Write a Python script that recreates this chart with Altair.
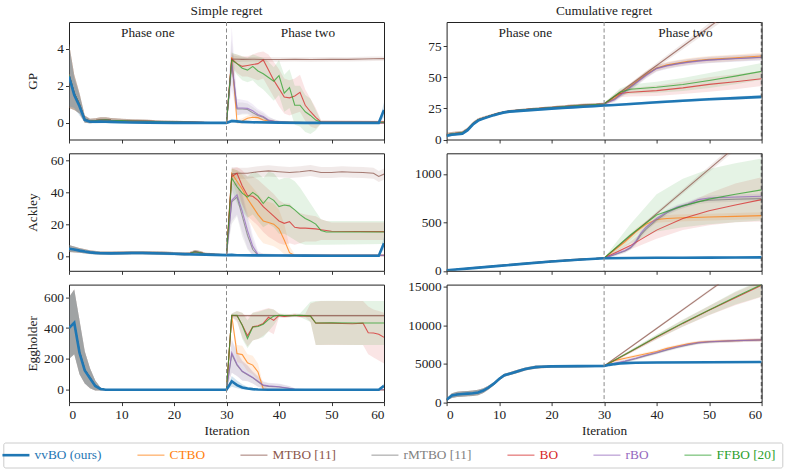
import altair as alt
import pandas as pd

FONT = "Liberation Serif"
FS = 13.3
INK = "#222222"

SERIES = ["vvBO (ours)", "CTBO", "MTBO [11]", "rMTBO [11]", "BO", "rBO", "FFBO [20]"]
COLORS = ["#1f77b4", "#ff7f0e", "#8c564b", "#7f7f7f", "#d62728", "#9467bd", "#2ca02c"]
ITER_TICKS = [0, 10, 20, 30, 40, 50, 60]

# Each series is (iterations, mean, lower band, upper band).
# Phase one (iterations 0-30) is shared by the baselines; each baseline then has its own phase two.

# ---------------- GP, simple regret ----------------
GP_S_P1 = ([0, 1, 2, 3, 4, 5, 6, 7, 8, 10, 12, 15, 18, 22, 26, 30],
           [2.6, 1.6, 1.0, 0.2, 0.1, 0.12, 0.15, 0.16, 0.14, 0.12, 0.1, 0.08, 0.06, 0.04, 0.02, 0.0],
           [0.8, 0.7, 0.5, 0.0, -0.02, 0.0, 0.02, 0.03, 0.03, 0.02, 0.01, 0.0, -0.01, -0.02, -0.02, -0.03],
           [4.3, 2.6, 1.6, 0.4, 0.22, 0.25, 0.3, 0.3, 0.26, 0.22, 0.2, 0.17, 0.13, 0.1, 0.06, 0.03])
GP_S = {
    "vvBO (ours)": ([0, 1, 2, 3, 4, 5, 6, 7, 8, 10, 12, 15, 20, 25, 30, 31, 32, 33, 35, 40, 45, 50, 55, 59, 60],
                    [2.5, 1.5, 0.9, 0.15, 0.06, 0.06, 0.07, 0.06, 0.05, 0.03, 0.02, 0.01, 0.0, 0.0, 0.0, 0.1, 0.08, 0.05, 0.03, 0.01, 0.0, 0.0, 0.0, 0.0, 0.7],
                    [0.9, 0.8, 0.4, 0.0, -0.04, -0.03, -0.02, -0.02, -0.02, -0.03, -0.03, -0.03, -0.03, -0.03, -0.03, 0.0, 0.0, -0.02, -0.03, -0.03, -0.03, -0.03, -0.03, -0.03, 0.3],
                    [4.2, 2.4, 1.5, 0.35, 0.18, 0.15, 0.16, 0.15, 0.12, 0.1, 0.08, 0.06, 0.04, 0.04, 0.04, 0.22, 0.17, 0.12, 0.08, 0.05, 0.04, 0.04, 0.04, 0.04, 1.1]),
    "CTBO": ([30, 31, 32, 33, 34, 35, 36, 37, 38, 40, 45, 50, 60],
             [0, 3.55, 0.05, 0.1, 0.25, 0.3, 0.28, 0.15, 0.1, 0.05, 0.02, 0.0, 0.0],
             [0, 3.1, -0.05, -0.05, 0.1, 0.15, 0.12, 0.03, 0.0, -0.03, -0.03, -0.03, -0.03],
             [0, 3.9, 0.15, 0.25, 0.4, 0.45, 0.42, 0.3, 0.2, 0.12, 0.07, 0.04, 0.04]),
    "MTBO [11]": ([30, 31, 33, 35, 37, 40, 43, 46, 50, 53, 56, 58, 60],
                  [0, 3.45, 3.43, 3.44, 3.42, 3.42, 3.43, 3.42, 3.44, 3.43, 3.45, 3.46, 3.47],
                  [0, 3.25, 3.3, 3.32, 3.3, 3.3, 3.31, 3.3, 3.32, 3.31, 3.33, 3.34, 3.35],
                  [0, 3.65, 3.56, 3.56, 3.54, 3.54, 3.55, 3.54, 3.56, 3.55, 3.57, 3.58, 3.59]),
    "rMTBO [11]": ([30, 31, 32, 33, 34, 35, 36, 37, 38, 40, 42, 60],
                   [0, 3.2, 0.75, 0.75, 0.72, 0.55, 0.4, 0.3, 0.12, 0.04, 0.02, 0.0],
                   [0, 2.4, 0.4, 0.45, 0.45, 0.3, 0.2, 0.1, 0.0, -0.03, -0.03, -0.03],
                   [0, 4.5, 1.1, 1.1, 1.05, 0.85, 0.65, 0.5, 0.3, 0.12, 0.06, 0.03]),
    "BO": ([30, 31, 32, 33, 34, 35, 36, 37, 38, 39, 40, 41, 42, 43, 44, 45, 46, 47, 48, 60],
           [0, 3.45, 3.2, 3.05, 3.1, 3.15, 3.2, 3.4, 2.85, 2.3, 1.85, 1.4, 1.35, 1.45, 1.65, 0.95, 0.6, 0.3, 0.05, 0.05],
           [0, 3.1, 2.7, 2.5, 2.5, 2.4, 2.3, 2.4, 1.9, 1.4, 0.9, 0.5, 0.4, 0.5, 0.6, 0.1, -0.2, -0.3, -0.05, -0.03],
           [0, 3.75, 3.7, 3.6, 3.6, 3.7, 3.8, 3.85, 3.7, 3.3, 2.9, 2.4, 2.3, 2.4, 2.6, 1.8, 1.3, 0.8, 0.15, 0.13]),
    "rBO": ([30, 31, 32, 33, 34, 35, 36, 37, 38, 39, 40, 42, 60],
            [0, 3.3, 0.8, 0.8, 0.78, 0.65, 0.45, 0.35, 0.15, 0.08, 0.05, 0.02, 0.0],
            [0, 1.8, 0.4, 0.5, 0.5, 0.4, 0.25, 0.15, 0.0, -0.02, -0.03, -0.03, -0.03],
            [0, 5.2, 1.3, 1.25, 1.2, 1.0, 0.75, 0.6, 0.35, 0.2, 0.12, 0.06, 0.03]),
    "FFBO [20]": ([30, 31, 32, 33, 34, 35, 36, 37, 38, 39, 40, 41, 42, 43, 44, 45, 46, 47, 48, 60],
                  [0, 3.4, 3.2, 2.95, 2.85, 3.05, 2.8, 2.65, 2.45, 2.25, 2.55, 1.6, 1.9, 0.95, 0.95, 0.6, 0.4, 0.15, 0.03, 0.03],
                  [0, 3.0, 2.6, 2.3, 2.2, 2.3, 2.0, 1.8, 1.5, 1.2, 1.5, 0.6, 0.8, -0.1, -0.2, -0.5, -0.6, -0.4, -0.05, -0.03],
                  [0, 3.8, 3.7, 3.6, 3.5, 3.7, 3.6, 3.5, 3.3, 3.0, 3.4, 2.6, 2.9, 2.0, 2.0, 1.5, 1.3, 0.7, 0.12, 0.1]),
}

# ---------------- GP, cumulative regret ----------------
GP_C_P1 = ([0, 1, 2, 3, 4, 5, 6, 7, 8, 10, 12, 15, 20, 25, 30],
           [3.6, 4.5, 5.0, 5.5, 8.3, 12.8, 15.8, 17.3, 18.7, 21.2, 22.8, 24.0, 25.7, 27.3, 28.6],
           [2.0, 3.0, 3.6, 4.2, 7.0, 11.5, 14.6, 16.2, 17.6, 20.2, 21.8, 23.0, 24.6, 26.1, 27.3],
           [5.2, 6.0, 6.4, 6.8, 9.6, 14.1, 17.0, 18.4, 19.8, 22.2, 23.8, 25.0, 26.8, 28.5, 29.9])
GP_C = {
    "vvBO (ours)": ([0, 1, 2, 3, 4, 5, 6, 7, 8, 9, 10, 11, 12, 14, 16, 18, 20, 22, 24, 26, 28, 30, 32, 35, 40, 45, 50, 55, 60],
                    [3.0, 3.8, 4.2, 4.6, 7.5, 12.0, 15.2, 16.8, 18.2, 19.6, 20.8, 21.8, 22.4, 23.0, 23.6, 24.2, 24.8, 25.3, 25.8, 26.3, 26.8, 27.3, 27.8, 28.6, 29.9, 31.2, 32.4, 33.3, 34.3],
                    [1.8, 2.8, 3.2, 3.6, 6.4, 10.9, 14.2, 15.9, 17.3, 18.7, 19.9, 20.9, 21.5, 22.1, 22.7, 23.3, 23.9, 24.4, 24.9, 25.4, 25.9, 26.4, 26.9, 27.6, 28.8, 30.1, 31.2, 32.0, 32.9],
                    [4.2, 4.8, 5.2, 5.6, 8.6, 13.1, 16.2, 17.7, 19.1, 20.5, 21.7, 22.7, 23.3, 23.9, 24.5, 25.1, 25.7, 26.2, 26.7, 27.2, 27.7, 28.2, 28.7, 29.6, 31.0, 32.3, 33.6, 34.6, 35.7]),
    "CTBO": ([30, 32, 34, 36, 38, 40, 42, 44, 46, 48, 50, 55, 60],
             [28.6, 33, 39.5, 46, 52.5, 57.5, 60, 61.5, 62.8, 63.8, 64.6, 65.8, 67.2],
             [27.6, 31, 37, 43.5, 50, 55, 57.5, 59, 60.3, 61.3, 62, 63.2, 64.6],
             [29.6, 35, 42, 48.5, 55, 60, 62.5, 64, 65.3, 66.3, 67.2, 68.4, 69.8]),
    "MTBO [11]": ([30, 35, 40, 45, 50, 55, 60],
                  [28.6, 44, 59.5, 75, 90.5, 106, 121.5],
                  [28, 42.5, 57.5, 72.5, 87.5, 102.5, 117.5],
                  [29.2, 45.5, 61.5, 77.5, 93.5, 109.5, 125.5]),
    "rMTBO [11]": ([30, 32, 34, 36, 38, 40, 42, 44, 46, 48, 50, 55, 60],
                   [28.6, 32.5, 39, 45.5, 52, 57.3, 59.5, 61, 62.3, 63.3, 64, 65.2, 66.2],
                   [27.6, 30.5, 36.5, 43, 49.5, 54.8, 57, 58.5, 59.8, 60.8, 61.5, 62.7, 63.7],
                   [29.6, 34.5, 41.5, 48, 54.5, 59.8, 62, 63.5, 64.8, 65.8, 66.5, 67.7, 68.7]),
    "BO": ([30, 31, 32, 33, 35, 40, 45, 50, 55, 60],
           [28.6, 31.5, 34.5, 37, 38, 39.3, 41.5, 44.3, 46.5, 48.8],
           [27.6, 30, 32.5, 34, 34.5, 35, 36.5, 38.5, 40.5, 43],
           [29.6, 33, 36.5, 40, 41.5, 43.5, 46.5, 50, 52.5, 55]),
    "rBO": ([30, 32, 34, 36, 38, 40, 42, 44, 46, 48, 50, 55, 60],
            [28.6, 32, 38.5, 45, 51.5, 57, 59.2, 60.8, 62, 63, 63.8, 65, 66],
            [27.6, 30, 36, 42.5, 49, 54.5, 56.7, 58.3, 59.5, 60.5, 61.3, 62.5, 63.5],
            [29.6, 34, 41, 47.5, 54, 59.5, 61.7, 63.3, 64.5, 65.5, 66.3, 67.5, 68.5]),
    "FFBO [20]": ([30, 31, 32, 33, 35, 40, 45, 50, 55, 60],
                  [28.6, 31.8, 35, 38, 40.4, 42, 44.2, 47.5, 51, 54.8],
                  [27.6, 30.3, 33, 35, 36.5, 37.5, 39, 41.5, 44.5, 48],
                  [29.6, 33.3, 37, 41, 44.3, 46.5, 49.4, 53.5, 57.5, 61.5]),
}

# ---------------- Ackley, simple regret ----------------
AC_S_P1 = ([0, 2, 4, 6, 8, 10, 12, 14, 16, 18, 20, 22, 23, 24, 25, 26, 28, 30],
           [4.6, 3.4, 2.3, 1.8, 1.8, 1.9, 2.0, 2.0, 1.9, 1.7, 1.4, 1.2, 1.5, 2.6, 2.0, 1.1, 0.8, 0.6],
           [2.5, 2.0, 1.2, 0.8, 0.8, 0.9, 1.0, 1.0, 0.9, 0.7, 0.5, 0.3, 0.5, 1.5, 1.0, 0.2, 0.0, -0.2],
           [6.8, 4.9, 3.5, 2.8, 2.8, 2.9, 3.0, 3.0, 2.9, 2.7, 2.4, 2.1, 2.5, 3.7, 3.0, 2.0, 1.6, 1.4])
AC_S = {
    "vvBO (ours)": ([0, 1, 2, 3, 4, 5, 6, 8, 10, 12, 14, 16, 18, 20, 22, 24, 26, 28, 30, 31, 32, 35, 40, 45, 50, 55, 59, 60],
                    [4.5, 4.0, 3.3, 2.7, 2.2, 1.9, 1.7, 1.6, 1.7, 1.8, 1.8, 1.7, 1.5, 1.3, 1.1, 0.9, 0.8, 0.6, 0.5, 0.6, 0.4, 0.3, 0.2, 0.15, 0.1, 0.1, 0.1, 8],
                    [2.5, 2.3, 1.9, 1.5, 1.1, 0.9, 0.7, 0.6, 0.6, 0.7, 0.7, 0.6, 0.5, 0.3, 0.2, 0.0, -0.1, -0.2, -0.3, -0.2, -0.3, -0.3, -0.3, -0.3, -0.3, -0.3, -0.3, 4],
                    [6.8, 5.8, 4.8, 4.0, 3.3, 2.9, 2.7, 2.6, 2.8, 2.9, 2.9, 2.8, 2.6, 2.3, 2.0, 1.8, 1.7, 1.4, 1.3, 1.4, 1.1, 0.9, 0.7, 0.6, 0.5, 0.5, 0.5, 12]),
    "CTBO": ([30, 31, 32, 33, 34, 35, 36, 37, 38, 39, 40, 41, 42, 43, 60],
             [0.6, 52, 47, 42, 36, 31, 26, 22, 21, 20, 17, 10, 2, 0.3, 0.3],
             [0.3, 48, 38, 32, 24, 18, 12, 8, 7, 6, 4, 1, -0.5, -0.5, -0.5],
             [0.9, 55, 54, 51, 47, 43, 39, 35, 34, 33, 29, 20, 6, 1, 1]),
    "MTBO [11]": ([30, 31, 32, 34, 36, 38, 40, 42, 44, 46, 48, 50, 52, 54, 56, 58, 59, 60],
                  [0.6, 51.5, 52, 52, 53, 53.5, 53, 52.5, 53, 53.8, 52.5, 52.5, 53, 52.7, 52.5, 52, 50, 51.5],
                  [0.3, 47, 48.5, 48.5, 49.5, 50, 49.5, 49, 49.5, 50.3, 49, 49, 49.5, 49.2, 49, 48.5, 46.5, 48],
                  [0.9, 56, 55.5, 55.5, 56.5, 57, 56.5, 56, 56.5, 57.3, 56, 56, 56.5, 56.2, 56, 55.5, 53.5, 55]),
    "rMTBO [11]": ([30, 31, 32, 33, 34, 35, 36, 40, 60],
                   [0.6, 34, 37, 25, 13, 4, 0.5, 0.3, 0.3],
                   [0.3, 20, 25, 12, 4, 0, -0.5, -0.5, -0.5],
                   [0.9, 44, 46, 38, 24, 10, 2, 1, 1]),
    "BO": ([30, 31, 32, 33, 34, 35, 36, 37, 38, 39, 40, 41, 42, 43, 44, 45, 47, 48, 50, 60],
           [0.6, 50, 52, 44, 38, 37.5, 35, 31, 28, 25, 22, 20.5, 21.5, 18, 17.5, 17.5, 17, 16.5, 15.5, 15.3],
           [0.3, 45, 44, 32, 25, 22, 19, 15, 12, 10, 8, 7, 8, 7, 8, 9, 9, 10, 10, 10],
           [0.9, 55, 56, 54, 50, 50, 48, 45, 42, 39, 35, 33, 33, 29, 27, 26, 25, 23, 21, 21]),
    "rBO": ([30, 31, 32, 33, 34, 35, 36, 37, 60],
            [0.6, 35, 38.5, 28, 16, 6, 0.8, 0.4, 0.3],
            [0.3, 22, 26, 15, 5, 0.5, -0.5, -0.5, -0.5],
            [0.9, 45, 48, 40, 27, 13, 3, 1.2, 1]),
    "FFBO [20]": ([30, 31, 32, 33, 34, 35, 36, 37, 38, 39, 40, 41, 42, 43, 44, 45, 46, 47, 48, 49, 60],
                  [0.6, 49, 43.5, 39.5, 37, 40, 37.5, 33, 37, 35, 31, 32, 31.5, 29, 26, 23.5, 22, 20, 16, 15, 15],
                  [0.3, 42, 33, 28, 24, 26, 22, 18, 20, 18, 14, 14, 12, 10, 8, 7, 7, 7, 7, 7, 7.5],
                  [0.9, 55, 54, 52, 50, 53, 52, 49, 53, 52, 48, 49, 49, 47, 43, 38, 33, 28, 23, 22, 22]),
}

# ---------------- Ackley, cumulative regret ----------------
AC_C_P1 = ([0, 5, 10, 15, 20, 25, 30],
           [4, 29, 52, 75, 97, 115, 131],
           [0, 20, 42, 64, 86, 104, 120],
           [9, 38, 62, 86, 108, 126, 142])
AC_C = {
    "vvBO (ours)": ([0, 5, 10, 15, 20, 25, 30, 35, 40, 45, 50, 55, 60],
                    [4, 28, 51, 74, 96, 114, 130, 132, 134, 135, 136, 137, 139],
                    [0, 20, 42, 64, 86, 104, 120, 122, 124, 125, 126, 127, 128],
                    [8, 36, 60, 84, 106, 124, 140, 142, 144, 145, 146, 147, 150]),
    "CTBO": ([30, 32, 34, 36, 38, 40, 42, 44, 50, 55, 60],
             [131, 215, 300, 400, 480, 530, 540, 545, 555, 562, 570],
             [128, 195, 270, 365, 445, 495, 505, 510, 520, 527, 535],
             [134, 235, 330, 435, 515, 565, 575, 580, 590, 597, 605]),
    "MTBO [11]": ([30, 40, 50, 60],
                  [131, 590, 1050, 1510],
                  [128, 570, 1020, 1470],
                  [134, 610, 1080, 1550]),
    "rMTBO [11]": ([30, 32, 34, 35, 36, 37, 38, 40, 42, 44, 46, 48, 50, 55, 60],
                   [131, 165, 205, 235, 290, 370, 430, 525, 600, 650, 685, 715, 728, 738, 745],
                   [128, 150, 185, 215, 265, 345, 405, 500, 575, 625, 660, 690, 703, 713, 720],
                   [134, 180, 225, 255, 315, 395, 455, 550, 625, 675, 710, 740, 753, 763, 770]),
    "BO": ([30, 35, 40, 45, 50, 55, 60],
           [131, 260, 420, 540, 620, 680, 735],
           [128, 220, 330, 420, 470, 500, 510],
           [134, 300, 520, 680, 800, 900, 965]),
    "rBO": ([30, 32, 34, 35, 36, 37, 38, 40, 42, 44, 46, 48, 50, 55, 60],
            [131, 170, 210, 240, 300, 390, 450, 540, 610, 660, 690, 735, 752, 762, 770],
            [128, 150, 190, 220, 275, 365, 425, 515, 585, 635, 665, 710, 727, 737, 745],
            [134, 190, 230, 260, 325, 415, 475, 565, 635, 685, 715, 760, 777, 787, 795]),
    "FFBO [20]": ([30, 35, 40, 45, 50, 55, 60],
                  [131, 370, 575, 670, 740, 790, 835],
                  [128, 280, 405, 450, 480, 500, 520],
                  [134, 480, 790, 950, 1050, 1110, 1160]),
}

# ---------------- Eggholder, simple regret ----------------
EG_S_P1 = ([0, 1, 2, 3, 4, 5, 6, 7, 30],
           [400, 435, 245, 130, 78, 28, 6, 0, 0],
           [200, 230, 100, 40, 10, -5, -5, -3, -3],
           [600, 650, 450, 250, 140, 60, 15, 3, 3])
EG_S = {
    "vvBO (ours)": ([0, 1, 2, 3, 4, 5, 6, 7, 10, 20, 30, 31, 32, 33, 34, 35, 36, 38, 40, 50, 59, 60],
                    [400, 435, 240, 125, 75, 25, 5, 0, 0, 0, 0, 55, 30, 15, 8, 4, 2, 0, 0, 0, 0, 25],
                    [200, 230, 100, 40, 10, -5, -5, -3, -3, -3, -3, 20, 10, 2, 0, -3, -3, -3, -3, -3, -3, 10],
                    [600, 650, 450, 250, 140, 60, 15, 3, 3, 3, 3, 90, 60, 35, 20, 10, 6, 3, 3, 3, 3, 40]),
    "CTBO": ([30, 31, 32, 33, 34, 35, 36, 37, 38, 60],
             [0, 480, 235, 228, 175, 160, 115, 5, 0, 0],
             [0, 470, 180, 170, 120, 100, 60, -5, -5, -5],
             [0, 490, 290, 285, 230, 220, 170, 30, 5, 5]),
    "MTBO [11]": ([30, 31, 40, 50, 60],
                  [0, 481, 481, 481, 481],
                  [0, 474, 474, 474, 474],
                  [0, 488, 488, 488, 488]),
    "rMTBO [11]": ([30, 31, 32, 33, 34, 35, 36, 37, 38, 40, 42, 43, 45, 60],
                   [0, 230, 160, 118, 98, 78, 52, 28, 22, 18, 8, 2, 0, 0],
                   [0, 110, 90, 60, 55, 40, 20, 10, 5, 0, -5, -5, -5, -5],
                   [0, 320, 240, 185, 155, 115, 85, 50, 42, 38, 22, 8, 5, 5]),
    "BO": ([30, 31, 32, 33, 34, 35, 36, 37, 38, 39, 40, 41, 42, 43, 44, 45, 46, 47, 48, 50, 52, 54, 56, 57, 58, 59, 60],
           [0, 483, 480, 420, 350, 408, 415, 430, 470, 450, 482, 475, 480, 483, 478, 480, 478, 432, 433, 432, 430, 428, 432, 370, 368, 360, 340],
           [0, 470, 440, 340, 280, 320, 330, 350, 380, 360, 470, 465, 470, 472, 468, 470, 440, 290, 290, 290, 290, 290, 290, 230, 210, 190, 170],
           [0, 495, 510, 500, 470, 500, 510, 520, 530, 520, 495, 487, 490, 495, 490, 492, 560, 570, 575, 575, 575, 575, 575, 540, 520, 510, 500]),
    "rBO": ([30, 31, 32, 33, 34, 35, 36, 37, 38, 40, 42, 43, 45, 60],
            [0, 240, 165, 120, 100, 80, 55, 30, 25, 20, 10, 3, 0, 0],
            [0, 110, 90, 60, 55, 40, 20, 10, 5, 0, -5, -5, -5, -5],
            [0, 330, 250, 190, 160, 120, 90, 55, 45, 40, 25, 10, 5, 5]),
    "FFBO [20]": ([30, 31, 32, 33, 34, 35, 36, 37, 38, 39, 40, 42, 44, 46, 47, 50, 55, 60],
                  [0, 483, 483, 418, 332, 407, 410, 425, 455, 478, 483, 480, 483, 478, 433, 435, 433, 433],
                  [0, 470, 450, 330, 270, 320, 330, 340, 380, 420, 470, 470, 472, 440, 290, 292, 290, 290],
                  [0, 495, 510, 500, 450, 500, 505, 515, 525, 520, 495, 492, 495, 570, 575, 578, 575, 575]),
}

# ---------------- Eggholder, cumulative regret ----------------
EG_C_P1 = ([0, 1, 2, 3, 4, 5, 6, 7, 8, 9, 10, 11, 12, 13, 14, 15, 16, 17, 18, 20, 25, 30],
           [300, 850, 1000, 1050, 1100, 1150, 1250, 1500, 1900, 2400, 3000, 3500, 3700, 3900, 4100, 4300, 4450, 4550, 4600, 4650, 4680, 4700],
           [200, 550, 650, 700, 750, 800, 900, 1200, 1650, 2200, 2800, 3300, 3500, 3700, 3900, 4100, 4250, 4350, 4420, 4480, 4520, 4550],
           [400, 1150, 1350, 1400, 1450, 1500, 1600, 1800, 2150, 2600, 3200, 3700, 3900, 4100, 4300, 4500, 4650, 4750, 4780, 4820, 4840, 4850])
EG_C = {
    "vvBO (ours)": ([0, 1, 2, 3, 4, 5, 6, 7, 8, 9, 10, 11, 12, 13, 14, 15, 16, 17, 18, 20, 25, 30, 31, 32, 33, 34, 36, 40, 50, 60],
                    [300, 850, 1000, 1050, 1100, 1150, 1250, 1500, 1900, 2400, 3000, 3500, 3700, 3900, 4100, 4300, 4450, 4550, 4600, 4650, 4680, 4700, 4850, 4950, 5030, 5080, 5130, 5160, 5190, 5220],
                    [200, 550, 650, 700, 750, 800, 900, 1200, 1650, 2200, 2800, 3300, 3500, 3700, 3900, 4100, 4250, 4350, 4420, 4480, 4520, 4550, 4700, 4800, 4880, 4940, 4990, 5020, 5060, 5090],
                    [400, 1150, 1350, 1400, 1450, 1500, 1600, 1800, 2150, 2600, 3200, 3700, 3900, 4100, 4300, 4500, 4650, 4750, 4780, 4820, 4840, 4850, 5000, 5100, 5180, 5220, 5270, 5300, 5320, 5350]),
    "CTBO": ([30, 32, 34, 36, 38, 40, 42, 44, 46, 48, 50, 55, 60],
             [4700, 5400, 5700, 6000, 6300, 6600, 7000, 7300, 7600, 7800, 7900, 8000, 8100],
             [4600, 5200, 5500, 5800, 6100, 6400, 6800, 7100, 7400, 7600, 7700, 7800, 7900],
             [4800, 5600, 5900, 6200, 6500, 6800, 7200, 7500, 7800, 8000, 8100, 8200, 8300]),
    "MTBO [11]": ([30, 40, 50, 60],
                  [4700, 9590, 14480, 19370],
                  [4600, 9440, 14300, 19150],
                  [4800, 9740, 14660, 19590]),
    "rMTBO [11]": ([30, 32, 34, 36, 38, 40, 42, 44, 46, 48, 50, 55, 60],
                   [4700, 5000, 5300, 5650, 6050, 6400, 6800, 7150, 7450, 7700, 7820, 7980, 8080],
                   [4600, 4800, 5100, 5450, 5850, 6200, 6600, 6950, 7250, 7500, 7620, 7780, 7880],
                   [4800, 5200, 5500, 5850, 6250, 6600, 7000, 7350, 7650, 7900, 8020, 8180, 8280]),
    "BO": ([30, 35, 40, 45, 50, 55, 60],
           [4700, 6550, 8450, 10250, 11950, 13600, 15200],
           [4600, 6350, 8150, 9800, 11300, 12600, 13700],
           [4800, 6750, 8750, 10700, 12500, 14300, 15800]),
    "rBO": ([30, 32, 34, 36, 38, 40, 42, 44, 46, 48, 50, 55, 60],
            [4700, 5050, 5350, 5700, 6100, 6450, 6850, 7200, 7500, 7750, 7850, 8000, 8100],
            [4600, 4850, 5150, 5500, 5900, 6250, 6650, 7000, 7300, 7550, 7650, 7800, 7900],
            [4800, 5250, 5550, 5900, 6300, 6650, 7050, 7400, 7700, 7950, 8050, 8200, 8300]),
    "FFBO [20]": ([30, 35, 40, 45, 50, 55, 60],
                  [4700, 6600, 8500, 10300, 12000, 13700, 15300],
                  [4600, 6400, 8200, 9850, 11350, 12700, 13750],
                  [4800, 6800, 8800, 10750, 12550, 14400, 15900]),
}


def build_frame(phase_one, methods):
    rows = []
    for name in SERIES:
        xs, ys, los, his = methods[name]
        if name != "vvBO (ours)":
            px, py, plo, phi = phase_one
            keep = [i for i, v in enumerate(px) if v < xs[0]]
            xs = [px[i] for i in keep] + xs
            ys = [py[i] for i in keep] + ys
            los = [plo[i] for i in keep] + los
            his = [phi[i] for i in keep] + his
        if not (len(xs) == len(ys) == len(los) == len(his)):
            raise ValueError(f"length mismatch in {name}")
        for a, b, c, d in zip(xs, ys, los, his):
            rows.append({"series": name, "iter": a, "mean": b, "lo": c, "hi": d})
    return pd.DataFrame(rows)


COLOR_SCALE = alt.Scale(domain=SERIES, range=COLORS)
# the band scale lists the same mapping in reverse order so it stays out of the line legend
FILL_SCALE = alt.Scale(domain=SERIES[::-1], range=COLORS[::-1])

LEGEND = alt.Legend(
    orient="none", legendX=-65.7, legendY=420.5, direction="horizontal", columns=7,
    title=None, symbolType="stroke", symbolSize=729,
    symbolStrokeWidth={"expr": "datum.value === 'vvBO (ours)' ? 2.6 : 1.3"},
    symbolOpacity={"expr": "datum.value === 'vvBO (ours)' ? 1 : 0.6"},
    labelColor={"expr": "scale('color', datum.value)"},
    labelFont=FONT, labelFontSize=FS, labelOffset=12, columnPadding=32,
    padding=6, strokeColor="#cccccc", fillColor="white", cornerRadius=2,
)


def panel(phase_one, methods, ydom, yticks, row_title=None, col_title=None,
          bottom=False, end_marker=False):
    df = build_frame(phase_one, methods)
    xenc = alt.X("iter:Q", scale=alt.Scale(domain=[0, 60], nice=False, zero=False),
                 axis=alt.Axis(values=ITER_TICKS, labels=bottom, format="d",
                               title="Iteration" if bottom else None))
    yscale = alt.Scale(domain=ydom, nice=False, zero=False)
    if row_title:
        yaxis = alt.Axis(values=yticks, title=row_title, format="d",
                         titleX=-32.5, titleBaseline="alphabetic")
    else:
        yaxis = alt.Axis(values=yticks, title=None, format="d")
    fill = alt.Fill("series:N", scale=FILL_SCALE, legend=None)
    color = alt.Color("series:N", scale=COLOR_SCALE, legend=LEGEND)

    base = alt.Chart(df)
    others = base.transform_filter("datum.series !== 'vvBO (ours)'")
    ours = base.transform_filter("datum.series === 'vvBO (ours)'")

    layers = [
        others.mark_area(opacity=0.12, clip=True).encode(
            x=xenc, y=alt.Y("lo:Q", scale=yscale, axis=yaxis), y2="hi:Q", fill=fill),
        ours.mark_area(opacity=0.2, clip=True).encode(
            x=xenc, y=alt.Y("lo:Q", scale=yscale, axis=yaxis), y2="hi:Q", fill=fill),
        others.mark_line(clip=True, strokeWidth=1.1, opacity=0.75).encode(
            x=xenc, y=alt.Y("mean:Q", scale=yscale, axis=yaxis), color=color),
        ours.mark_line(clip=True, strokeWidth=2.6).encode(
            x=xenc, y=alt.Y("mean:Q", scale=yscale, axis=yaxis), color=color),
        alt.Chart(pd.DataFrame({"iter": [30]})).mark_rule(
            color="#8a8a8a", strokeWidth=1, strokeDash=[4, 2.5]).encode(x=xenc),
    ]
    if end_marker:
        # phase boundary at the last iteration, drawn on top of the right frame
        layers.append(alt.Chart(pd.DataFrame({"iter": [60]})).mark_rule(
            color="#555555", strokeWidth=1.6, strokeDash=[4, 2.5]).encode(x=xenc))
    if col_title:
        phases = pd.DataFrame({"iter": [15, 45.5], "label": ["Phase one", "Phase two"]})
        layers.append(alt.Chart(phases).mark_text(
            font=FONT, fontSize=FS, color=INK, baseline="middle", align="center").encode(
            x=xenc, y=alt.value(10.5), text="label:N"))
    ch = alt.layer(*layers).properties(width=315, height=117.5)
    if col_title:
        ch = ch.properties(title=alt.TitleParams(col_title, font=FONT, fontSize=FS,
                                                 fontWeight="normal", color=INK, offset=4,
                                                 anchor="middle", frame="group"))
    return ch


panels = [
    panel(GP_S_P1, GP_S, [-0.9, 5.45], [0, 2, 4], row_title="GP", col_title="Simple regret"),
    panel(GP_C_P1, GP_C, [0, 94.5], [0, 25, 50, 75], col_title="Cumulative regret",
          end_marker=True),
    panel(AC_S_P1, AC_S, [-9.4, 64.6], [0, 20, 40, 60], row_title="Ackley"),
    panel(AC_C_P1, AC_C, [0, 1213], [0, 500, 1000], end_marker=True),
    panel(EG_S_P1, EG_S, [-80, 682], [0, 200, 400, 600], row_title="Eggholder", bottom=True),
    panel(EG_C_P1, EG_C, [0, 15300], [0, 5000, 10000, 15000], bottom=True, end_marker=True),
]

chart = alt.concat(
    *panels, columns=2, spacing={"row": 13.3, "column": 62.6}, bounds="flush"
).resolve_scale(
    x="independent", y="independent"
).properties(
    padding={"left": 2, "top": 3, "right": 7, "bottom": 3}
).configure_view(
    stroke=INK, strokeWidth=1
).configure_axis(
    grid=False, domain=False, tickColor=INK, tickSize=3.5, tickWidth=0.9,
    labelFont=FONT, labelFontSize=FS, labelColor=INK, labelPadding=2,
    titleFont=FONT, titleFontSize=FS, titleFontWeight="normal", titleColor=INK, titlePadding=3,
).configure_text(font=FONT)

chart.save("out.html", embed_options={"renderer": "svg", "actions": False})
